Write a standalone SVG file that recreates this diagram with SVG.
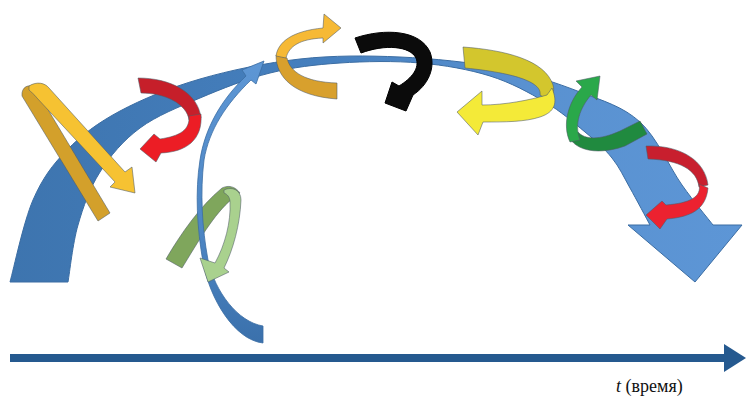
<svg xmlns="http://www.w3.org/2000/svg" width="746" height="407" viewBox="0 0 746 407">
<defs>
<linearGradient id="arcG" x1="0" y1="0" x2="746" y2="0" gradientUnits="userSpaceOnUse">
<stop offset="0" stop-color="#3d74ae"/>
<stop offset="0.45" stop-color="#4680bf"/>
<stop offset="0.7" stop-color="#5991d0"/>
<stop offset="1" stop-color="#5d96d6"/>
</linearGradient>
<linearGradient id="thinG" x1="0" y1="60" x2="0" y2="345" gradientUnits="userSpaceOnUse">
<stop offset="0" stop-color="#5e97d5"/>
<stop offset="0.6" stop-color="#4d86c4"/>
<stop offset="1" stop-color="#3a70ab"/>
</linearGradient>
<style>
.o{stroke:#4f5b66;stroke-width:1;stroke-opacity:.55;stroke-linejoin:round}
</style>
</defs>
<rect width="746" height="407" fill="#ffffff"/>

<g id="main-arc">
<path fill="url(#arcG)" stroke="#3b6da3" stroke-width="1" d="M 10,282 C 13.8,268.3 23.5,222 33,200 C 42.5,178 52.5,164.8 67,150 C 81.5,135.2 97.8,122.8 120,111 C 142.2,99.2 170,87.7 200,79 C 230,70.3 266.7,62.7 300,59 C 333.3,55.3 366.7,55.5 400,57 C 433.3,58.5 470,62.2 500,68 C 530,73.8 556.7,83 580,92 C 603.3,101 623,106.5 640,122 C 657,137.5 669.8,167.8 682,185 C 694.2,202.2 707.8,218.3 713,225 L 742,225 L 695,282 L 628,225 L 650,225 C 646.7,218.8 636.3,199.2 630,188 C 623.7,176.8 619.5,167.3 612,158 C 604.5,148.7 596.2,141.3 585,132 C 573.8,122.7 560.8,111.3 545,102 C 529.2,92.7 510.8,82.5 490,76 C 469.2,69.5 445,65.2 420,63 C 395,60.8 365,61.3 340,63 C 315,64.7 293.3,67.2 270,73 C 246.7,78.8 221.7,88.8 200,98 C 178.3,107.2 156.7,115.7 140,128 C 123.3,140.3 110.3,155.8 100,172 C 89.7,188.2 83.3,206.7 78,225 C 72.7,243.3 69.7,272.5 68,282 Z"/>
</g>

<g id="green-light-back">
<path class="o" fill="#7fa65c" d="M 166,259 L 182,268 C 198,242 214,214 232,199 L 240,193 C 235,186 228,185 222,188 C 200,206 180,235 166,259 Z"/>
</g>

<g id="thin-arrow">
<path fill="url(#thinG)" stroke="#3b6da3" stroke-width="0.8" d="M 263,343 C 235,340 210,300 203,262 C 197,228 195,192 200,160 C 205,128 221,100 246,76 L 242,70 L 264,61 L 256,84 L 251,80 C 226,104 209,130 204,160 C 200,192 202,228 208,260 C 215,292 238,322 263,326 Z"/>
</g>

<g id="green-light-front">
<path class="o" fill="#a9d18e" d="M 224,190 C 232,186 241,190 241,200 C 240,225 233,250 224,268 L 229,272 L 208,282 L 200,258 L 215,263 C 225,245 231,222 230,202 C 230,197 227,194 224,193 Z"/>
</g>

<g id="gold-left">
<path class="o" fill="#d3a02b" d="M 22,96 C 21,87 29,83 35,88 L 110,213 L 98,221 Z"/>
<path class="o" fill="#f6c232" d="M 29,86 C 37,81 45,83 49,88 L 125,172 L 132,167 L 135,193 L 110,187 L 115,182 L 37,98 C 34,94 31,92 29,90 Z"/>
</g>

<g id="red-left">
<path class="o" fill="#c61f2a" d="M 138,78 C 170,78 198,92 201,118 L 189,120 C 187,104 165,93 141,93 Z"/>
<path class="o" fill="#ec1d25" d="M 189,116 C 190,130 180,136 160,139 L 154,134 L 140,149 L 156,162 L 161,153 C 186,152 203,140 201,114 Z"/>
</g>

<g id="gold-top">
<path class="o" fill="#d8a02d" d="M 276,55 C 276,78 295,96 337,99 L 337,83 C 305,82 290,72 287,58 Z"/>
<path class="o" fill="#f6b935" d="M 276,56 C 278,42 292,31 323,28 L 324,14 L 341,28 L 323,43 L 323,38 C 300,39 289,46 286,58 Z"/>
</g>

<g id="black">
<path fill="#0b0b0b" stroke="#000" stroke-width="1" d="M 355,38 C 385,28 420,30 430,52 C 436,68 428,85 413,95 L 406,111 L 385,103 L 392,82 L 399,86 C 412,78 420,68 416,58 C 410,46 385,44 361,53 Z"/>
</g>

<g id="yellow-right">
<path class="o" fill="#d3c62d" d="M 463,47 C 505,50 545,60 553,85 C 555,92 552,97 548,100 L 540,95 C 542,85 525,74 465,68 Z"/>
<path class="o" fill="#f4ea38" d="M 552,88 C 558,103 555,112 540,117 C 525,122 505,122 483,122 L 478,135 L 457,112 L 482,91 L 482,105 C 505,105 530,100 547,95 Z"/>
</g>

<g id="green">
<path class="o" fill="#208a3f" d="M 568,135 C 575,152 600,155 625,146 L 647,134 L 640,121 L 620,131 C 600,140 585,140 578,132 Z"/>
<path class="o" fill="#2aa84a" d="M 582,87 C 568,102 562,125 570,142 L 580,140 C 574,124 580,108 591,95 L 597,100 L 600,76 L 576,81 Z"/>
</g>

<g id="red-right">
<path class="o" fill="#c81f2e" d="M 646,146 C 680,145 705,160 708,185 L 699,187 C 697,170 680,160 648,159 Z"/>
<path class="o" fill="#ec2230" d="M 699,184 C 702,197 690,203 666,205 L 662,201 L 646,215 L 660,229 L 667,219 C 690,217 706,210 708,188 Z"/>
</g>

<g id="timeline">
<rect x="10" y="354" width="716" height="8" fill="#25598f"/>
<polygon points="724,344 746,358 724,372" fill="#25598f"/>
</g>

<text x="616" y="392" font-family="'Liberation Serif', 'Times New Roman', serif" font-size="18" fill="#111"><tspan font-style="italic">t</tspan> (время)</text>
</svg>
